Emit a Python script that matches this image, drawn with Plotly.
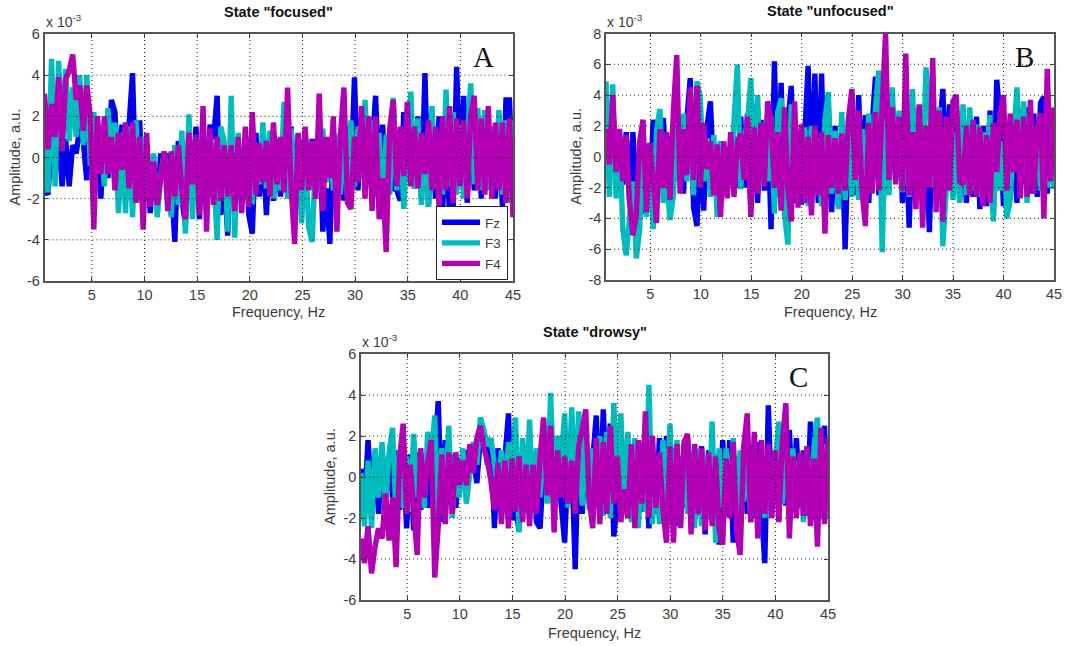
import numpy as np
import plotly.graph_objects as go

W, H = 1066, 646
SERIES = ["Fz", "F3", "F4"]
COLORS = ["#0000ee", "#00bcbc", "#b400b4"]

# Amplitudes in units of 1e-3, rows span roughly 5 Hz each
A_Fz = [-1.5,-1.8,1.0,-0.4,1.2,-1.4,0.9,-1.4,0.6,0.2,1.5,0.8,-1.1,2.0,-0.4,
 2.0,-2.0,1.0,-1.0,2.8,2.2,-1.3,1.6,-1.0,1.6,4.1,-2.1,1.8,-2.3,0.2,
 -2.7,-0.2,-2.5,0.2,-1.0,0.2,-1.2,-4.1,0.8,-2.0,-3.3,1.3,-1.7,1.5,-3.0,
 1.5,-2.0,1.6,0.9,3.0,-2.8,-0.6,-3.8,0.7,-2.4,0.6,-1.9,1.0,-2.8,-3.7,
 1.2,-1.9,0.5,-2.8,0.7,-2.1,0.9,-1.9,1.2,-1.0,1.5,-1.9,1.1,-0.9,1.2,
 -1.5,0.9,-1.6,2.0,-3.6,-1.5,-4.2,1.2,-1.9,1.2,-2.1,1.5,-1.0,3.9,-1.6,
 2.0,-0.9,1.6,0.5,3.0,-1.4,1.6,-2.2,1.2,-1.5,-1.6,-2.1,2.2,-0.4,1.4,
 -1.5,2.0,-2.0,4.1,-2.4,1.9,-2.0,2.0,-2.7,1.6,-3.0,-2.5,4.4,-1.4,3.0,
 -2.2,2.0,-1.6,1.8,-2.0,2.3,-0.8,1.2,-2.0,1.8,-2.4,2.8,2.8,-1.8]
A_F3 = [0.9,-1.7,4.8,-1.4,4.7,0.6,4.3,0.8,3.4,1.0,4.0,0.6,4.0,-0.4,2.2,
 -0.6,1.0,-1.4,2.4,0.2,1.7,-2.7,1.2,-2.7,1.5,-2.9,1.8,-2.1,1.0,-0.4,
 -1.9,0.2,-2.9,-0.9,0.3,-1.8,-2.9,0.6,-2.3,1.3,-3.7,2.1,-3.0,1.0,-2.2,
 1.8,-2.3,1.2,-0.7,-4.0,1.5,0.8,-3.6,3.0,-3.9,1.2,-2.2,0.8,-2.0,-2.1,
 0.7,-1.3,1.7,-1.5,1.3,-2.0,0.6,-1.6,2.7,-2.0,1.4,-2.2,1.0,-3.2,0.4,
 -3.4,-4.1,0.4,-1.7,1.4,-1.2,1.0,-1.6,1.1,-1.8,1.2,-2.0,1.8,-1.4,1.5,
 -1.0,2.8,-0.8,1.8,-1.9,1.2,-3.0,1.1,-1.8,2.9,-1.6,1.3,-2.5,1.0,3.2,
 -1.5,1.9,-2.3,1.0,-2.4,2.5,-1.5,0.7,-1.8,3.3,-1.4,2.2,-1.8,1.6,-2.0,
 1.4,3.6,-1.3,2.4,-1.6,2.3,-1.6,1.5,-1.2,2.3,-1.8,1.8,-2.2,1.8]
A_F4 = [3.1,0.4,2.6,1.0,3.9,0.3,3.8,4.2,5.0,2.8,3.5,1.3,3.5,2.0,-3.5,
 2.0,-0.8,2.0,-0.8,1.0,-1.6,1.2,-0.6,1.7,-1.5,1.7,-2.2,1.0,-3.5,1.2,
 -2.4,-0.2,-2.3,-0.9,0.3,-2.6,0.3,-1.9,0.6,-1.6,-3.0,1.2,-1.3,1.1,-2.8,
 2.5,-3.6,1.4,-2.3,1.0,-2.1,0.6,-1.9,0.6,-2.6,1.0,-2.7,1.5,-2.4,2.2,
 -1.8,0.7,-1.2,0.8,-1.9,1.7,-1.3,1.0,-1.7,3.4,-1.4,-4.2,1.2,-1.6,1.5,
 -1.6,0.8,-2.0,3.1,-2.6,1.0,-1.0,2.0,-3.6,1.0,3.4,-2.2,-2.5,1.0,-1.2,
 2.5,-2.0,2.0,-2.6,2.0,-3.0,-1.0,-4.6,1.4,2.8,-1.4,1.5,-0.9,2.7,-1.4,
 1.5,-1.5,1.2,-0.8,1.8,-1.6,1.5,-2.4,2.0,-1.6,2.5,-2.2,1.9,-1.4,1.8,
 -2.0,2.0,3.0,-1.6,1.9,-1.8,2.5,-2.0,1.7,-1.6,1.7,-2.2,1.9,-2.9]

B_Fz = [1.0,-1.5,3.5,-1.5,1.4,-1.8,1.6,-2.9,1.6,-2.9,0.2,-3.7,0.8,-3.2,2.4,
 -1.0,1.6,2.5,-1.2,-2.8,1.7,-1.5,1.5,-2.4,2.4,5.1,-3.3,-4.5,1.9,-3.5,
 2.0,3.6,-1.7,-2.0,1.0,-2.5,0.6,-1.5,1.3,-2.0,2.6,-2.0,2.8,-3.4,3.4,
 -3.0,2.4,-2.2,2.8,-4.7,6.2,-2.6,4.8,-3.5,2.2,4.6,-3.0,1.3,-3.1,1.9,
 5.9,-2.4,5.4,-3.0,5.4,-2.8,3.2,-3.6,2.0,-3.2,1.7,-6.0,1.8,3.5,-2.5,
 4.0,-2.0,2.7,-3.0,2.0,5.2,-2.5,-1.5,4.2,-1.8,3.4,-1.0,2.8,-3.0,1.8,
 -4.6,2.2,-2.8,3.2,-3.5,1.6,-4.9,2.0,-2.0,1.5,4.4,-2.0,3.4,-2.5,3.3,
 -2.9,2.0,-3.0,1.5,-2.6,2.6,-3.4,2.0,-3.2,3.0,-3.7,5.0,2.5,-3.2,2.2,
 -2.8,1.8,-3.0,2.5,-1.8,3.2,-2.4,2.8,-2.6,3.5,3.9,-2.4,2.6,-1.8]
B_F3 = [4.9,-2.6,4.7,-2.7,1.3,-4.7,-6.4,-3.4,-1.6,-6.6,-4.7,1.5,-3.9,0.6,-4.7,
 1.7,3.1,-3.0,-1.5,-4.1,-2.5,2.0,-1.0,2.8,-1.6,3.2,-2.5,4.9,3.8,-1.6,
 1.2,-2.6,1.4,-3.9,1.0,-2.4,0.6,-1.4,1.8,6.0,-2.1,1.2,2.2,5.1,-2.1,
 4.0,-1.9,2.2,-1.6,2.6,-3.7,2.9,3.8,-3.7,-5.7,3.4,-2.7,1.0,-2.4,1.9,
 -3.2,2.0,-2.4,1.2,-3.2,2.4,4.2,-2.4,1.7,-3.4,2.9,-2.8,2.4,-2.6,3.0,
 -2.8,1.8,-2.9,2.8,-1.8,3.2,5.6,-6.2,2.5,-2.5,4.5,-1.6,3.0,-2.3,2.3,
 -2.6,4.4,-1.8,2.0,-1.4,5.8,3.2,-2.0,2.2,3.2,-5.8,-2.5,1.5,-2.8,1.6,
 -3.0,3.4,-2.5,3.2,-2.2,2.1,-2.6,1.6,-2.0,2.7,-4.2,1.2,-2.2,1.0,-4.0,
 -2.8,1.0,4.5,-1.0,3.6,-3.0,2.7,-2.0,2.0,-2.2,1.8,-2.0,1.4,-2.1]
B_F4 = [1.8,-0.5,4.0,-1.0,1.8,-1.6,1.4,-3.0,-5.1,-3.8,1.0,2.4,-3.6,0.9,-1.5,
 -4.3,1.8,-2.0,1.6,-2.8,3.0,6.6,-2.4,1.8,-1.2,4.5,-1.5,4.6,-2.0,2.2,
 -0.8,1.0,-2.5,0.8,-3.9,1.0,-2.7,1.6,-2.6,0.8,1.5,-1.5,2.6,-3.9,1.9,
 -2.4,2.2,-1.9,3.6,2.3,-2.0,1.6,-3.5,3.2,-2.0,-4.2,3.6,-3.3,2.1,-3.0,
 1.3,-3.8,2.0,-2.5,1.6,-5.0,1.4,-2.0,1.2,-2.4,1.5,-2.2,2.5,4.4,-1.5,
 3.0,-2.2,-4.5,2.2,-2.4,2.9,-2.2,3.4,8.0,-1.5,3.2,-1.8,2.6,-2.2,6.7,
 -2.5,1.6,-3.4,3.4,-4.6,2.0,-2.0,6.4,-3.6,3.0,-4.2,2.6,-2.2,3.6,4.0,
 -1.6,-1.8,2.0,-2.5,2.4,-2.6,1.9,-3.2,1.4,-3.0,2.2,-1.0,2.8,4.0,-2.2,
 2.8,-1.0,2.4,-2.7,2.6,-2.6,3.7,-2.4,1.9,2.8,-4.0,5.7,-1.6,3.2]

C_Fz = [0.4,-1.4,1.8,-0.9,0.9,-1.8,1.3,-1.1,1.0,-1.0,1.3,-1.6,0.8,-2.5,1.1,
 -2.6,1.2,-1.6,0.6,-1.5,1.2,1.0,3.7,-2.2,1.8,-0.7,1.1,-1.5,0.9,-0.4,
 1.3,0.4,1.0,-0.3,1.9,2.0,0.6,1.9,-2.5,1.4,-1.2,0.8,3.1,-2.1,-1.4,
 -2.6,0.6,0.8,-1.3,1.1,-2.2,-2.5,0.6,1.0,2.2,-1.9,1.2,-1.3,-3.2,0.9,
 1.1,-4.5,2.0,-1.8,1.6,-1.3,0.8,3.0,-1.8,3.3,-1.1,2.6,-2.9,-1.2,2.0,
 0.4,-2.0,1.0,-1.4,1.5,-1.7,1.0,-2.5,1.2,-1.8,1.9,-1.9,2.0,-1.3,1.4,
 -2.4,1.0,-1.5,1.9,-1.4,1.2,-1.9,1.5,-2.8,1.3,-1.8,1.1,-3.3,1.8,-1.9,
 1.8,-3.2,1.0,-1.6,1.5,-1.8,1.5,-2.0,1.7,-1.5,-4.2,3.5,-1.6,1.2,-1.5,
 1.7,-1.4,2.3,-1.7,1.9,-1.5,1.3,-1.9,2.7,-1.4,2.2,-1.0,2.5,-2.0]
C_F3 = [0.2,-2.4,0.8,-2.5,1.4,-1.0,1.7,-1.6,1.2,2.4,-2.1,1.3,-1.5,1.0,-1.7,
 2.1,-1.0,0.8,-1.5,2.2,0.9,3.0,-2.3,1.4,-1.2,2.5,-2.0,0.9,-1.0,1.4,
 -1.3,0.5,1.7,0.6,2.9,2.3,1.5,1.9,0.8,-0.7,1.3,-1.2,1.7,0.3,2.9,
 -2.7,1.9,-1.2,2.8,-1.5,1.4,-1.0,2.8,-1.3,4.1,-0.8,2.0,0.8,3.1,-1.5,
 3.4,-0.9,3.2,-1.4,2.3,-1.6,1.4,-1.5,2.0,-1.9,2.2,-2.0,3.6,-0.8,3.1,
 -1.6,2.2,-2.2,1.9,-2.5,1.7,-1.7,4.5,-2.3,1.0,-2.3,1.8,-1.6,2.6,-2.2,
 1.8,-2.4,1.6,-1.8,1.3,-2.5,1.4,-2.4,1.0,-1.9,2.7,-3.2,1.4,-1.5,1.4,
 -1.4,1.9,-1.8,1.3,-1.2,1.4,-2.2,1.2,-1.7,1.0,-2.0,1.3,-1.8,0.8,2.7,
 -1.3,1.9,-2.0,1.4,-1.6,1.1,-2.2,1.4,-1.9,1.5,2.9,-2.0,1.6,-2.0]
C_F4 = [-3.0,-4.2,-2.4,-4.7,-3.4,-2.5,-3.0,-0.8,-3.1,-1.0,-4.4,0.9,2.6,-1.8,0.6,
 -1.6,-3.8,1.4,-1.0,0.7,1.8,-4.9,-2.4,1.1,-2.3,1.2,-1.8,1.2,-0.4,0.8,
 -0.4,1.6,0.2,1.9,2.5,1.4,0.8,-0.2,-1.6,0.7,-2.3,0.8,-2.5,0.9,-1.7,
 1.0,-2.2,0.6,-2.4,0.6,-1.8,1.0,2.9,-0.9,2.5,-2.7,1.3,-1.0,1.0,-1.3,
 0.8,-1.8,1.5,2.3,3.3,-1.1,-2.5,1.9,-2.3,1.7,-1.8,2.5,-1.3,1.0,-2.2,
 -0.6,-2.0,1.6,-2.5,1.8,-1.3,3.2,-2.0,2.0,-1.5,1.2,-1.6,-3.2,1.5,-3.2,
 1.6,-2.5,1.7,2.1,-2.8,1.6,-1.8,1.4,-2.6,1.2,-2.4,1.0,-2.6,-3.3,0.9,
 -2.0,1.7,-2.7,-3.8,1.5,3.1,-2.2,2.2,-3.0,1.8,-1.8,1.6,-2.0,1.3,-2.2,
 1.7,3.6,-3.0,1.0,-2.0,1.2,-1.9,1.5,-2.4,0.9,-3.4,2.4,-2.3,1.9]

FX_TICKS = list(range(5, 50, 5))
PANELS = [
    dict(title='State "focused"', letter="A", data=[A_Fz, A_F3, A_F4], x0=0.5,
         box=(44.5, 513, 34, 281), yt=[-6,-4,-2,0,2,4,6], ylab=14, xlab=312),
    dict(title='State "unfocused"', letter="B", data=[B_Fz, B_F3, B_F4], x0=0.6,
         box=(606, 1054, 33.5, 280), yt=[-8,-6,-4,-2,0,2,4,6,8], ylab=576, xlab=312),
    dict(title='State "drowsy"', letter="C", data=[C_Fz, C_F3, C_F4], x0=0.6,
         box=(361, 828, 354, 600), yt=[-6,-4,-2,0,2,4,6], ylab=330, xlab=633),
]

TXT = "#3c3c3c"
FONT = "Liberation Sans"
fig = go.Figure()
layout = dict(width=W, height=H, margin=dict(l=0, r=0, t=0, b=0, autoexpand=False),
              paper_bgcolor="white", plot_bgcolor="white",
              font=dict(family=FONT, size=14, color=TXT))
annotations, shapes = [], []
GRID = dict(color="#222", width=1, dash="1px,3px")

for i, p in enumerate(PANELS):
    sfx = "" if i == 0 else str(i + 1)
    l, r, t, b = p["box"]
    for name, color, vals in zip(SERIES, COLORS, p["data"]):
        fig.add_trace(go.Scatter(
            x=np.linspace(p["x0"], 45, len(vals)), y=vals, mode="lines", name=name,
            showlegend=(i == 0), xaxis="x" + sfx, yaxis="y" + sfx,
            line=dict(color=color, width=5.4)))
    layout["xaxis" + sfx] = dict(
        domain=[l / W, r / W], range=[p["x0"], 45], anchor="y" + sfx,
        tickvals=FX_TICKS, ticktext=[str(v) for v in FX_TICKS], ticks="inside", ticklen=4,
        tickcolor="#444", showgrid=False, zeroline=False, showline=True, mirror="ticks",
        linecolor="#555", linewidth=1.5, tickfont=dict(size=14.5, color=TXT))
    layout["yaxis" + sfx] = dict(
        domain=[1 - b / H, 1 - t / H], range=[p["yt"][0], p["yt"][-1]], anchor="x" + sfx,
        tickvals=p["yt"], ticktext=[str(v) for v in p["yt"]], ticks="inside", ticklen=4,
        tickcolor="#444", showgrid=False, zeroline=False, showline=True, mirror="ticks",
        linecolor="#555", linewidth=1.5, tickfont=dict(size=14.5, color=TXT))
    for v in FX_TICKS[:-1]:
        shapes.append(dict(type="line", layer="above", xref="x" + sfx, yref="y" + sfx + " domain",
                           x0=v, x1=v, y0=0, y1=1, line=GRID))
    for v in p["yt"][1:-1]:
        shapes.append(dict(type="line", layer="above", xref="x" + sfx + " domain", yref="y" + sfx,
                           x0=0, x1=1, y0=v, y1=v, line=GRID))
    annotations += [
        dict(text="<b>" + p["title"] + "</b>", xref="paper", yref="paper",
             x=(l + r) / 2 / W, y=1 - (t - 22) / H, xanchor="center", yanchor="middle",
             showarrow=False, font=dict(size=14.5, color="#111")),
        dict(text="x 10<sup>-3</sup>", xref="paper", yref="paper",
             x=(l - 1) / W, y=1 - (t - 2) / H, xanchor="left", yanchor="bottom",
             showarrow=False, font=dict(size=14, color=TXT)),
        dict(text=p["letter"], xref="paper", yref="paper",
             x=(r - 30) / W, y=1 - (t + 23) / H, xanchor="center", yanchor="middle",
             showarrow=False, font=dict(size=29, family="Liberation Serif", color="#111")),
        dict(text="Frequency, Hz", xref="paper", yref="paper",
             x=(l + r) / 2 / W, y=1 - p["xlab"] / H, xanchor="center", yanchor="middle",
             showarrow=False, font=dict(size=14.5, color=TXT)),
        dict(text="Amplitude, a.u.", xref="paper", yref="paper", textangle=-90,
             x=p["ylab"] / W, y=1 - (t + b) / 2 / H, xanchor="center", yanchor="middle",
             showarrow=False, font=dict(size=14.5, color=TXT)),
    ]

layout["annotations"] = annotations
layout["shapes"] = shapes
layout["legend"] = dict(x=436 / W, y=1 - 206 / H, xanchor="left", yanchor="top",
                        bgcolor="white", bordercolor="#222", borderwidth=1,
                        font=dict(size=13.5, color=TXT), itemwidth=38, tracegroupgap=0)
fig.update_layout(**layout)
fig.write_html("out.html", config={"displayModeBar": False},
               post_script="document.body.style.margin='0';document.body.style.overflow='hidden';")
